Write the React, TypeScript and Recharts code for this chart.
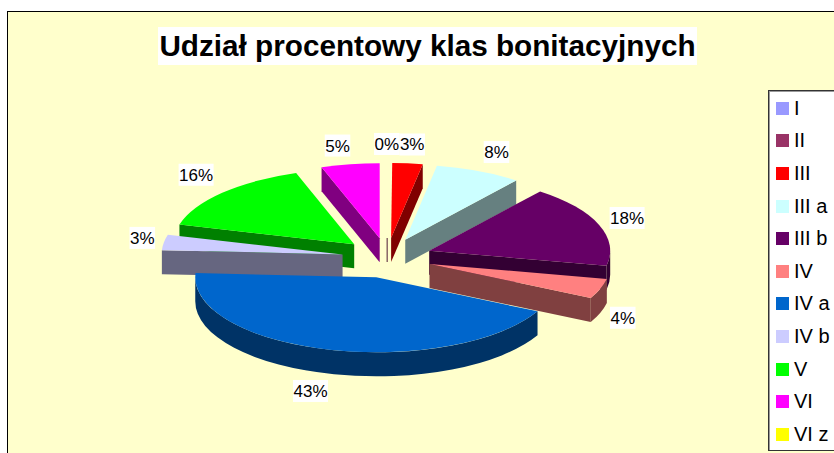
import { PieChart, Pie, Legend } from 'recharts'

const CATEGORIES = ['I', 'II', 'III', 'III a', 'III b', 'IV', 'IV a', 'IV b', 'V', 'VI', 'VI z']
const SHARES = [0, 0.1, 2.7, 7.7, 17.7, 4.3, 43.4, 3.3, 15.6, 5.2, 0]
const COLORS = ['#9999FF', '#993366', '#FF0000', '#CCFFFF', '#660066', '#FF8080', '#0066CC', '#CCCCFF', '#00FF00', '#FF00FF', '#FFFF00']
const WALL_COLORS = ['#4D4D80', '#4D1933', '#800000', '#668080', '#330033', '#804040', '#003366', '#666680', '#008000', '#800080', '#808000']
// back to front, the pie is flattened so the order has to be picked by hand
const PAINT_ORDER = ['I', 'II', 'III', 'VI', 'III a', 'III b', 'IV', 'V', 'IV b', 'VI z', 'IV a']

const TILT = 75 / 181
const DEPTH = 24
const EXPLODE_X = 45
const EXPLODE_Y = 19.5
const LABEL_RX = 210
const LABEL_RY = 97

const data = CATEGORIES.map((name, i) => ({ name, share: SHARES[i] }))
const rad = (deg: number) => (deg * Math.PI) / 180

function explodedApex(cx: number, cy: number, theta: number) {
  return { x: cx + EXPLODE_X * Math.sin(rad(theta)), y: cy - EXPLODE_Y * Math.cos(rad(theta)) }
}

function Slice3D(props: any) {
  const { cx, cy, outerRadius, startAngle, endAngle } = props
  const name = props.name ?? props.payload?.name
  const i = CATEGORIES.indexOf(name)
  if (!SHARES[i]) return null

  // theta runs clockwise from 12 o'clock
  const t0 = 90 - startAngle
  const t1 = 90 - endAngle
  const rx = outerRadius
  const ry = rx * TILT
  const a = explodedApex(cx, cy, (t0 + t1) / 2)
  // the big front slice sits a touch off the common explosion
  if (name === 'IV a') {
    a.x += 1
    a.y += 1
  }
  const pt = (t: number) => ({ x: a.x + rx * Math.sin(rad(t)), y: a.y - ry * Math.cos(rad(t)) })
  const top = COLORS[i]
  const wall = WALL_COLORS[i]

  if (t1 - t0 < 1) {
    return <line x1={a.x} y1={a.y} x2={a.x} y2={a.y + DEPTH} stroke={wall} strokeWidth={1} />
  }

  const p0 = pt(t0)
  const p1 = pt(t1)
  const large = t1 - t0 > 180 ? 1 : 0
  const quad = (p: { x: number; y: number }) =>
    `M${a.x},${a.y} L${p.x},${p.y} L${p.x},${p.y + DEPTH} L${a.x},${a.y + DEPTH} Z`

  const walls: string[] = []
  if (Math.sin(rad(t0)) < 0) walls.push(quad(p0))
  if (Math.sin(rad(t1)) > 0) walls.push(quad(p1))

  // outer rim shows only on the front half
  const r0 = Math.max(t0, 90)
  const r1 = Math.min(t1, 270)
  if (r1 > r0) {
    const s = pt(r0)
    const e = pt(r1)
    walls.push(
      `M${s.x},${s.y} A${rx},${ry} 0 0 1 ${e.x},${e.y} L${e.x},${e.y + DEPTH} A${rx},${ry} 0 0 0 ${s.x},${s.y + DEPTH} Z`,
    )
  }

  return (
    <g>
      {walls.map((d) => (
        <path key={d} d={d} fill={wall} />
      ))}
      <path d={`M${a.x},${a.y} L${p0.x},${p0.y} A${rx},${ry} 0 ${large} 1 ${p1.x},${p1.y} Z`} fill={top} />
    </g>
  )
}

// hand-moved labels, same as dragging them in the spreadsheet
const LABEL_SHIFT: Record<string, [number, number]> = {
  II: [-1, 3],
  III: [2, 3],
  'III a': [6, 1],
  'III b': [1, 1],
  IV: [-5, 6],
  'IV a': [-10, -3],
  'IV b': [7, -1],
  V: [-5, -3],
  VI: [-8, 3],
}

function renderLabel(props: any) {
  const { cx, cy, midAngle, value } = props
  if (!value) return null
  const name = props.name ?? props.payload?.name
  const theta = 90 - midAngle
  const a = explodedApex(cx, cy, theta)
  const cos = Math.cos(rad(theta))
  const extra = cos < 0 ? DEPTH * Math.min(1, -cos * 2) : 0
  const [sx, sy] = LABEL_SHIFT[name] ?? [0, 0]
  const x = a.x + LABEL_RX * Math.sin(rad(theta)) + sx
  const y = a.y - LABEL_RY * cos + extra + sy
  const text = `${Math.round(value)}%`
  const w = (text.length - 1) * 9.45 + 15.1 + 1
  return (
    <g>
      <rect x={x - w / 2} y={y - 11} width={w} height={22} fill="#fff" />
      <text x={x} y={y + 6} textAnchor="middle" fontSize={17} fontFamily="Liberation Sans" fill="#000">
        {text}
      </text>
    </g>
  )
}

function renderLegend() {
  return (
    <div
      style={{
        boxSizing: 'border-box',
        width: 80,
        height: 361,
        background: '#fff',
        border: '1px solid #333',
        borderRight: 'none',
        boxShadow: 'inset 1px 1px 0 #999',
        fontFamily: 'Liberation Sans',
        fontSize: 20,
        color: '#000',
        paddingTop: 1,
      }}
    >
      {CATEGORIES.map((name, i) => (
        <div key={name} style={{ display: 'flex', alignItems: 'center', height: 32.6, paddingLeft: 7 }}>
          <span style={{ width: 13, height: 13, background: COLORS[i], marginRight: 5, flex: 'none' }} />
          <span style={{ whiteSpace: 'nowrap' }}>{name}</span>
        </div>
      ))}
    </div>
  )
}

export default function App() {
  const pieProps = {
    data,
    dataKey: 'share',
    nameKey: 'name',
    cx: 387,
    cy: 257.5,
    outerRadius: 181,
    startAngle: 90,
    endAngle: -270,
    isAnimationActive: false,
  }

  return (
    <div style={{ position: 'absolute', left: 0, top: 0, width: 834, height: 453, overflow: 'hidden', background: '#fff' }}>
      <div
        style={{
          position: 'absolute',
          left: 7,
          top: 11,
          width: 840,
          height: 460,
          background: '#FFFFCC',
          border: '1px solid #000',
        }}
      />
      <div
        style={{
          position: 'absolute',
          left: 158,
          top: 27,
          width: 539,
          height: 38,
          background: '#fff',
          textAlign: 'center',
          fontFamily: 'Liberation Sans',
          fontWeight: 700,
          fontSize: 29.7,
          lineHeight: '38px',
          color: '#000',
          whiteSpace: 'nowrap',
        }}
      >
        Udział procentowy klas bonitacyjnych
      </div>
      <div style={{ position: 'absolute', left: 0, top: 0 }}>
        <PieChart width={834} height={453} margin={{ top: 0, right: 0, bottom: 0, left: 0 }}>
          {PAINT_ORDER.map((name) => (
            <Pie
              key={name}
              {...pieProps}
              shape={(p: any) => ((p.name ?? p.payload?.name) === name ? <Slice3D {...p} /> : <g />)}
            />
          ))}
          <Pie {...pieProps} shape={() => <g />} label={renderLabel} labelLine={false} />
          <Legend content={renderLegend} wrapperStyle={{ left: 768, top: 90, width: 80, height: 361 }} />
        </PieChart>
      </div>
    </div>
  )
}
